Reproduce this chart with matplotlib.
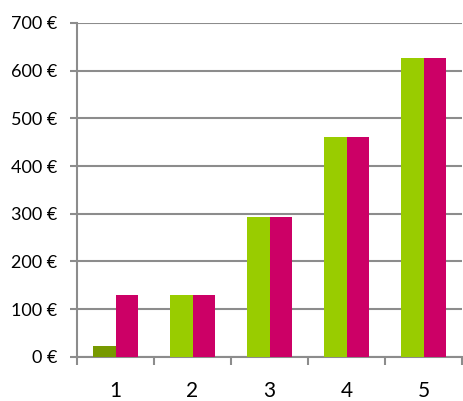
import matplotlib.pyplot as plt
import numpy as np
from matplotlib.ticker import FixedLocator

categories = ["1", "2", "3", "4", "5"]
series_a = [23, 129, 294, 460, 626]
series_b = [129, 129, 294, 460, 626]
y_ticks = [0, 100, 200, 300, 400, 500, 600, 700]

GREEN = "#99cc00"
DARK_GREEN = "#779900"
MAGENTA = "#cc0066"
GRID = "#8c8c8c"

plt.rcParams["font.family"] = ["Lato", "DejaVu Sans"]

fig = plt.figure(figsize=(4.64, 4.01), dpi=100)
ax = fig.add_axes([0.166, 0.11, 0.83, 0.833])

x = np.arange(len(categories))
w = 0.29
colors_a = [DARK_GREEN] + [GREEN] * (len(categories) - 1)
ax.bar(x - w / 2, series_a, width=w, color=colors_a, zorder=3)
ax.bar(x + w / 2, series_b, width=w, color=MAGENTA, zorder=3)

ax.set_xlim(-0.5, len(categories) - 0.5)
ax.set_ylim(0, 700)
ax.set_yticks(y_ticks)
ax.set_yticklabels([f"{v} €" for v in y_ticks])
ax.set_xticks(x)
ax.set_xticklabels(categories)
ax.xaxis.set_minor_locator(FixedLocator(np.arange(len(categories) + 1) - 0.5))

ax.yaxis.grid(True, color=GRID, linewidth=1.5, zorder=0)
for s in ["top", "right"]:
    ax.spines[s].set_visible(False)
for s in ["left", "bottom"]:
    ax.spines[s].set_color(GRID)
    ax.spines[s].set_linewidth(1.5)

ax.tick_params(axis="y", length=5, width=1.5, color=GRID, labelsize=13, pad=9)
ax.tick_params(axis="x", which="major", length=0, labelsize=15, pad=17)
ax.tick_params(axis="x", which="minor", length=6, width=1.5, color=GRID)

fig.savefig("out.png", dpi=100)
